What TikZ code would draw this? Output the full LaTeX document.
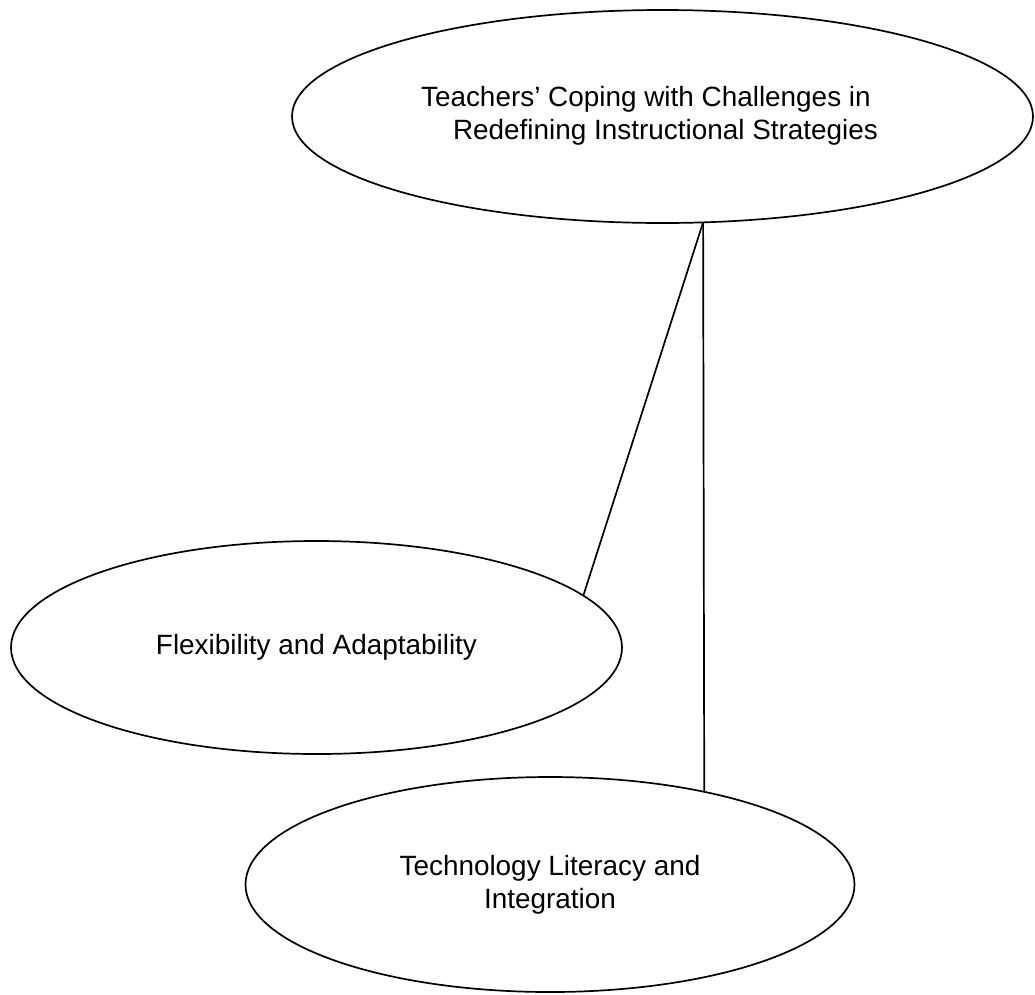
\documentclass[tikz,border=0pt]{standalone}
\usepackage{fontspec}
\setmainfont{Liberation Sans}
\usetikzlibrary{shapes.geometric}
\begin{document}
\begin{tikzpicture}[x=1pt,y=-1pt,
  bubble/.style={draw, ellipse, line width=1.7pt, inner sep=0pt, outer sep=0pt,
    font=\fontsize{27.9}{33}\selectfont, align=center},
  caption/.style={font=\fontsize{27.9}{33}\selectfont, align=left, inner sep=0pt},
  link/.style={draw, line width=1.7pt}]
\useasboundingbox (0,0) rectangle (1035,994);

% main theme
\node[bubble, minimum width=741, minimum height=213] (top) at (662.5,116.5) {};
\node[caption] (toptext) at (649.5,116)
  {Teachers' Coping with Challenges in\\\hspace*{32pt}Redefining Instructional Strategies};

% sub-themes
\node[bubble, minimum width=611, minimum height=213] (flex) at (316.5,647.5)
  {Flexibility and Adaptability};
\node[bubble, minimum width=609, minimum height=215] (tech) at (550,884.5)
  {Technology Literacy and\\Integration};

% connectors
\coordinate (hub) at (top.-69.5);
\draw[link] (hub) -- (flex.11.1);
\draw[link] (hub) -- (tech.31.9);
\end{tikzpicture}
\end{document}
